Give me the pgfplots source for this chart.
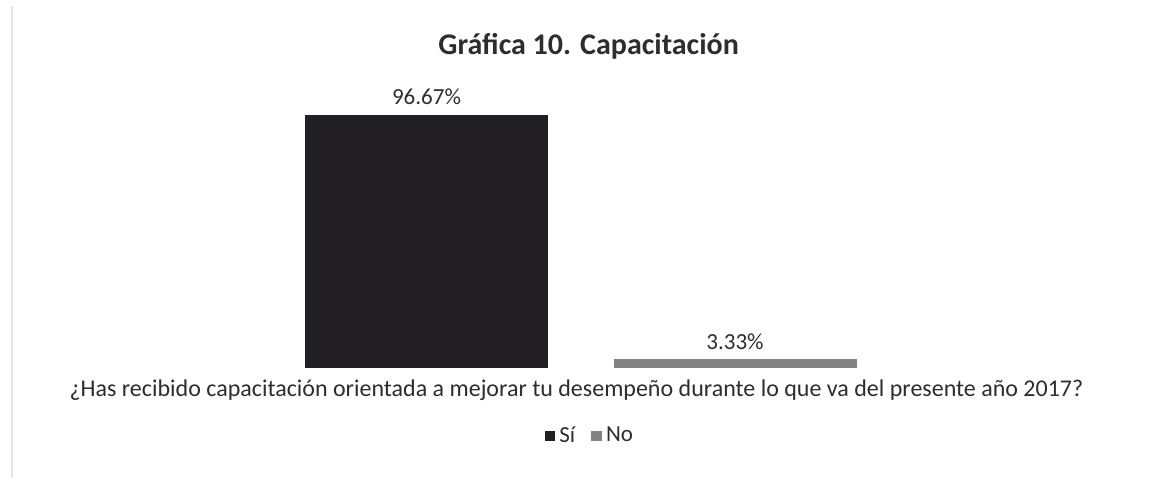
\documentclass[border=0pt]{standalone}
\usepackage{fontspec}
\setmainfont{Carlito}
\usepackage{pgfplots}
\pgfplotsset{compat=1.18}
\definecolor{barsi}{RGB}{33,31,36}
\definecolor{barno}{RGB}{130,130,130}
\definecolor{txt}{RGB}{45,45,45}
\begin{document}
\begin{tikzpicture}
\path[fill=white] (0pt,0pt) rectangle (576.5pt,243pt);
\draw[black!10,line width=1.2pt] (6pt,4pt) -- (6pt,240pt);
\begin{axis}[
  at={(15pt,59pt)}, anchor=south west,
  scale only axis,
  width=552pt, height=130.85pt,
  xmin=-1.2853, xmax=2.2934,
  ymin=0, ymax=100,
  axis line style={draw=none},
  ticks=none,
  bar width=121.5pt,
  /pgf/number format/assume math mode=true,
  title={\bfseries Gráfica 10. Capacitación},
  title style={at={(axis description cs:0.506,1.185)}, anchor=center, font=\fontsize{15}{18}\selectfont, text=txt},
  xlabel={¿Has recibido capacitación orientada a mejorar tu desempeño durante lo que va del presente año 2017?},
  xlabel style={at={(axis description cs:0.495,-0.084)}, anchor=center, font=\fontsize{12}{14}\selectfont, text=txt},
  nodes near coords={\pgfmathprintnumber[fixed,precision=2,fixed zerofill,assume math mode=true]{\pgfplotspointmeta}\%},
  nodes near coords style={font=\fontsize{11.5}{13}\selectfont, text=txt, anchor=south, yshift=1.5pt},
  legend style={at={(axis description cs:0.508,-0.26)}, anchor=center, draw=none, fill=none, legend columns=2, font=\fontsize{11.5}{13}\selectfont, text=txt, /tikz/every even column/.append style={column sep=6pt}},
  legend image code/.code={\fill[#1] (0pt,-2.7pt) rectangle (5.4pt,2.7pt);},
]
\addplot[ybar, fill=barsi, draw=none] coordinates {(0,96.67)};
\addlegendentry{Sí}
\addplot[ybar, fill=barno, draw=none] coordinates {(1,3.33)};
\addlegendentry{No}
\end{axis}
\end{tikzpicture}
\end{document}
